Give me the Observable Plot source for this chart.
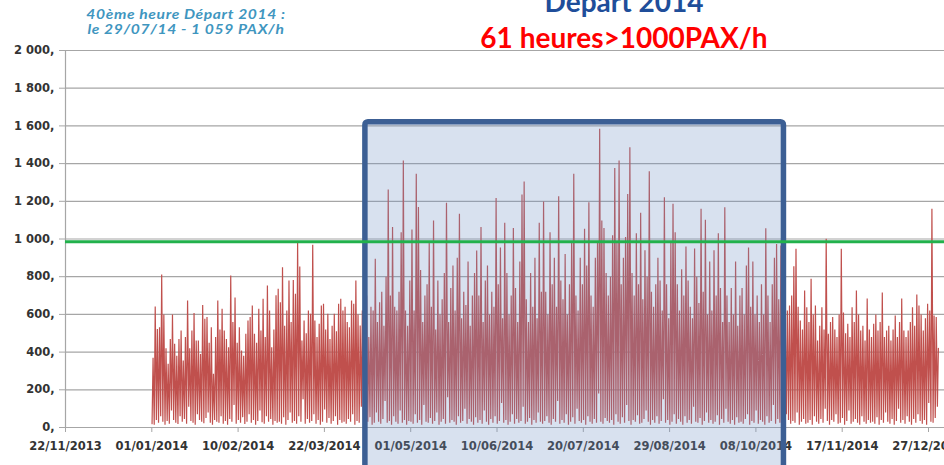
<!DOCTYPE html>
<html><head><meta charset="utf-8">
<script src="https://cdn.jsdelivr.net/npm/d3@7"></script>
<script src="https://cdn.jsdelivr.net/npm/@observablehq/plot@0.6"></script>
<style>
html,body{margin:0;padding:0;background:#fff;overflow:hidden}
#wrap{position:relative;width:944px;height:465px;overflow:hidden;background:#fff}
#chart{position:absolute;left:0;top:0;width:1000px}
.t{position:absolute;white-space:nowrap;transform:translateX(-50%);text-align:center}
.note{left:186px;font:italic bold 12.5px Lato,"Open Sans",sans-serif;color:#3f96bf;line-height:12.5px;letter-spacing:.5px;transform:translateX(-50%) scaleX(1.25)}
#n1{top:8.5px}
#n2{top:23.5px}
#t1{left:624px;top:-15px;font:bold 28px Lato,"Open Sans",sans-serif;line-height:1.2;color:#1f4e9a}
#t2{left:624px;top:21px;font:bold 28px Lato,"Open Sans",sans-serif;line-height:1.2;color:#ff0000}
</style></head>
<body><div id="wrap"><div id="chart"></div>
<div class="t note" id="n1">40ème heure Départ 2014 :</div>
<div class="t note" id="n2">le 29/07/14 - 1 059 PAX/h</div>
<div class="t" id="t1">Départ 2014</div>
<div class="t" id="t2">61 heures&gt;1000PAX/h</div>
</div>
<script>
// Daily peak hour (PAX/h), 1 Jan 2014 -> 31 Dec 2014, one line per month
const dailyPeaks = [
370,642,523,532,811,600,420,338,470,600,444,380,470,515,355,480,674,420,515,607,461,461,390,650,577,586,450,532,285,480,674,
520,630,515,470,426,806,560,690,450,532,408,380,497,568,586,647,497,450,630,515,683,480,753,621,426,520,701,736,
665,850,540,621,780,560,783,710,983,854,461,568,500,621,603,970,568,480,550,647,656,520,603,470,540,603,510,656,683,621,640,
560,532,674,656,780,600,541,621,560,700,480,640,620,895,560,665,720,540,800,1263,700,1063,640,620,720,1036,1416,620,540,780,
1050,620,1346,1170,836,560,700,760,983,640,1098,520,780,600,680,820,1192,560,740,860,620,900,1134,580,720,650,880,540,700,820,939,
700,1063,560,780,860,600,720,640,1217,760,955,580,1086,820,600,700,1059,740,560,880,1236,1305,680,560,820,640,900,580,1086,720,
1199,720,600,1036,760,900,640,1227,780,680,920,600,760,980,1346,700,620,900,760,1054,860,1195,700,640,900,980,1585,1098,1059,820,700,
800,1020,1377,980,1416,760,900,1010,1239,1487,820,700,1030,760,1139,680,940,800,1360,720,640,760,900,780,620,1222,760,580,980,1187,1036,
760,620,840,700,960,780,640,580,950,800,660,1160,720,1102,600,880,620,940,700,1030,740,560,1169,700,560,740,600,880,540,700,
740,600,860,955,640,880,600,700,560,760,600,1057,700,560,760,900,974,680,965,620,580,620,647,700,855,948,640,568,520,727,638,
560,789,600,647,462,540,638,520,1001,497,560,586,520,480,600,948,610,500,551,480,638,560,727,600,515,540,462,684,520,480,
551,600,515,560,716,480,515,540,462,520,594,480,560,684,515,480,515,560,638,540,705,647,600,515,580,656,620,1160,594,586,420
];
// Daily night-time low (PAX/h)
const dailyLows = [
20,15,40,25,60,30,15,35,20,90,40,25,18,60,30,45,20,110,35,25,15,70,40,30,22,50,80,25,15,40,30,
25,60,20,35,15,45,30,120,20,40,25,55,18,30,70,25,40,15,35,90,28,20,60,30,45,15,35,25,
30,20,55,15,40,80,25,35,20,60,30,150,20,45,25,35,70,20,40,15,30,95,25,50,20,35,60,15,40,25,30,
20,45,30,70,15,35,25,110,40,20,30,55,15,25,80,30,20,45,140,25,35,15,60,30,20,90,25,40,15,35,
30,20,70,25,40,15,120,30,25,50,20,35,80,15,30,45,20,160,25,40,30,15,60,25,35,100,20,45,30,15,55,
25,40,20,90,30,15,45,25,60,20,35,130,25,40,15,30,70,20,45,25,35,110,20,30,50,15,40,25,80,30,
20,35,60,25,15,45,30,140,20,40,25,70,15,30,55,20,100,35,25,40,15,60,30,20,45,25,180,30,20,50,35,
25,40,15,70,30,20,55,25,120,35,15,40,30,65,20,25,45,90,30,15,40,25,60,20,35,150,25,40,15,30,70,
20,45,30,15,60,25,40,20,110,30,25,50,15,35,80,25,40,20,30,65,15,45,25,100,30,20,40,15,55,25,
30,20,45,70,15,35,25,90,20,40,30,15,60,25,35,120,20,45,25,30,15,70,40,20,35,25,80,15,30,45,20,
25,40,15,60,30,20,45,25,100,35,15,40,30,70,20,25,50,15,35,90,20,30,45,25,15,60,30,20,40,25,
30,20,55,15,40,25,80,30,20,45,15,35,100,25,40,20,60,30,15,45,25,70,35,20,40,15,130,30,25,50,110
];
const xTickLabels = ["22/11/2013","01/01/2014","10/02/2014","22/03/2014","01/05/2014","10/06/2014","20/07/2014","29/08/2014","08/10/2014","17/11/2014","27/12/2014"];
const yTicks = [0,200,400,600,800,1000,1200,1400,1600,1800,2000];
const thresholdLine = [985];
const highlightPeriod = ["10/04/2014","21/10/2014"];
const highlightTop = [1620];

const parse = d3.utcParse("%d/%m/%Y");
const xTickDates = xTickLabels.map(parse);
const start = xTickDates[0];
const W = 1000, ML = 65, pxPerDay = 2.1575;
const end = new Date(start.getTime() + (W - ML) / pxPerDay * 864e5);

const series = [];
dailyPeaks.forEach((p, i) => {
  series.push({t: new Date(Date.UTC(2014, 0, 1 + i, 3)), v: dailyLows[i]});
  series.push({t: new Date(Date.UTC(2014, 0, 1 + i, 14)), v: p});
});
const highlight = [{from: parse(highlightPeriod[0]), to: parse(highlightPeriod[1]), top: highlightTop[0], bottom: -300}];
const fmtY = d3.formatLocale({thousands: "\u00a0", grouping: [3], decimal: "."}).format(",");

const chart = Plot.plot({
  width: W, height: 465,
  marginLeft: ML, marginRight: 0, marginTop: 50, marginBottom: 38,
  style: {fontFamily: "'DejaVu Sans', sans-serif", fontSize: "11.5px", fontWeight: "bold", color: "#333", background: "transparent", maxWidth: "none"},
  x: {type: "utc", domain: [start, end]},
  y: {domain: [0, 2000]},
  marks: [
    Plot.ruleY(yTicks, {stroke: "#a6a6a6", strokeWidth: 1.2}),
    Plot.ruleX([start], {y1: 0, y2: 2000, stroke: "#a6a6a6", strokeWidth: 1.2}),
    Plot.axisY({ticks: yTicks, tickSize: 6, tickPadding: 5, tickFormat: d => fmtY(d) + ",", stroke: "#a6a6a6", label: null}),
    Plot.axisX({ticks: xTickDates, tickSize: 5, tickPadding: 9.5, tickFormat: d3.utcFormat("%d/%m/%Y"), stroke: "#a6a6a6", label: null}),
    Plot.line(series, {x: "t", y: "v", stroke: "#c0504d", strokeWidth: 1.2, strokeLinejoin: "miter"}),
    Plot.rect(highlight, {x1: "from", x2: "to", y1: "bottom", y2: "top", fill: "#7494c4", fillOpacity: 0.28, stroke: "#3c5f94", strokeWidth: 5.5, rx: 3}),
    Plot.ruleY(thresholdLine, {stroke: "#22b14c", strokeWidth: 3})
  ]
});
chart.style.maxWidth = "none";
document.getElementById("chart").appendChild(chart);
</script>
</body></html>
